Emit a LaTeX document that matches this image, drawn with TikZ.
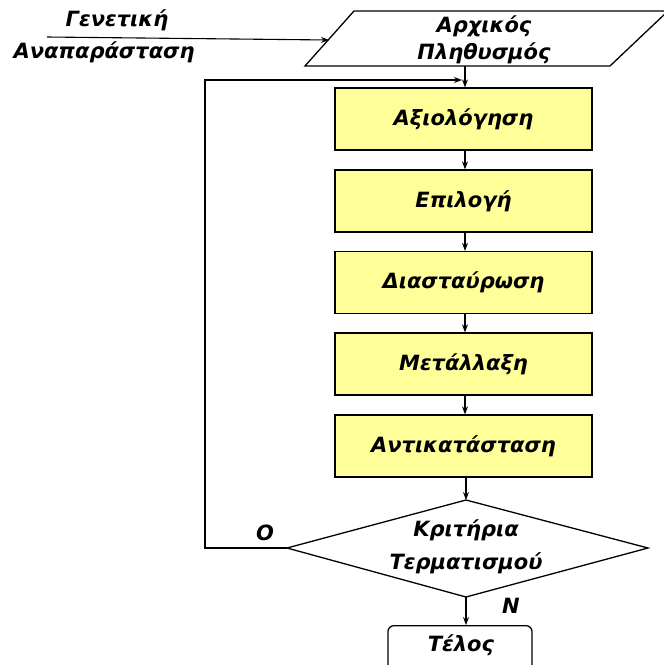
\documentclass[tikz,border=0pt]{standalone}
\usepackage{fontspec}
\setmainfont{DejaVu Sans}
\usetikzlibrary{shapes.geometric,arrows.meta}
\definecolor{boxyellow}{RGB}{255,255,153}
\newcommand{\flowfont}{\fontsize{21}{24}\selectfont\bfseries\itshape}
\tikzset{
  lbl/.style={font=\flowfont, inner sep=0pt},
  stepbox/.style={draw, line width=1.3pt, fill=boxyellow, minimum width=257pt, minimum height=62pt, inner sep=0pt, font=\flowfont},
  link/.style={draw, line width=1.1pt, -{Stealth[length=8pt,width=6pt]}}
}
\begin{document}
\begin{tikzpicture}[x=1pt,y=-1pt]
\useasboundingbox (0,0) rectangle (664,665);
% input parallelogram
\coordinate (pTL) at (354,11);
\coordinate (pTR) at (668,11);
\coordinate (pBR) at (610,66);
\coordinate (pBL) at (305,66);
\draw[line width=1.3pt] (pTL) -- (pTR) -- (pBR) -- (pBL) -- cycle;
\node[lbl] (pop1) at (484,26) {Αρχικός};
\node[lbl] (pop2) at (484,53) {Πληθυσμός};
\coordinate (pin) at (329,40);
\coordinate (pout) at (465,66);
% representation label
\node[lbl] (gen1) at (117,20) {Γενετική};
\node[lbl] (gen2) at (104,52) {Αναπαράσταση};
\coordinate (gstart) at (47,37);
\draw[link] (gstart) -- (pin);
% steps
\node[stepbox] (eval) at (463.5,119) {Αξιολόγηση};
\node[stepbox] (sel)  at (463.5,201) {Επιλογή};
\node[stepbox] (cross) at (463.5,282.5) {Διασταύρωση};
\node[stepbox] (mut)  at (463.5,364) {Μετάλλαξη};
\node[stepbox] (repl) at (463.5,446) {Αντικατάσταση};
% termination test
\coordinate (dT) at (466,500);
\coordinate (dR) at (648,548);
\coordinate (dB) at (466,597);
\coordinate (dL) at (287,548);
\draw[line width=1.3pt] (dT) -- (dR) -- (dB) -- (dL) -- cycle;
\node[lbl] (crit1) at (466,530) {Κριτήρια};
\node[lbl] (crit2) at (466,563) {Τερματισμού};
% end
\node[draw, line width=1.3pt, rounded corners=6pt, minimum width=144pt, minimum height=48pt, inner sep=0pt, anchor=north] (end) at (460,625) {};
\node[lbl] (endtxt) at (461,645) {Τέλος};
% connectors
\draw[link] (pout) -- (eval.north -| pout);
\draw[link] (eval.south -| 465,0) -- (sel.north -| 465,0);
\draw[link] (sel.south -| 465,0) -- (cross.north -| 465,0);
\draw[link] (cross.south -| 465,0) -- (mut.north -| 465,0);
\draw[link] (mut.south -| 465,0) -- (repl.north -| 465,0);
\draw[link] (repl.south -| dT) -- (dT);
\draw[link] (dB) -- (end.north -| dB);
\coordinate (loopA) at (205,548);
\coordinate (loopB) at (205,80);
\coordinate (loopC) at (462,80);
\draw[link] (dL) -- (loopA) -- (loopB) -- (loopC);
\node[lbl] (no) at (265,533) {Ο};
\node[lbl] (yes) at (511,606) {Ν};
\end{tikzpicture}
\end{document}
